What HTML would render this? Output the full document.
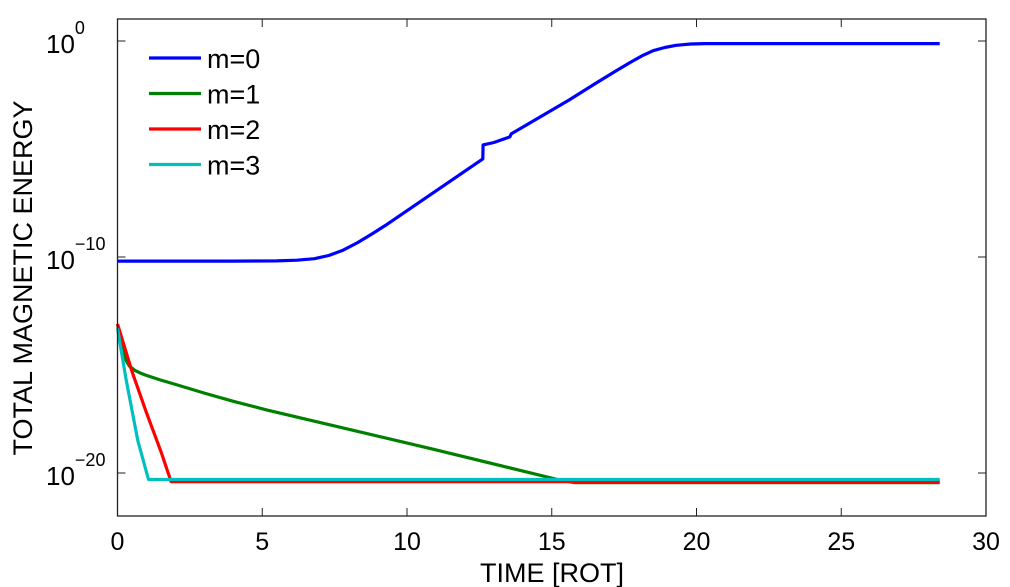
<!DOCTYPE html>
<html><head><meta charset="utf-8"><style>
body{margin:0;background:#fff;}
svg{display:block;font-family:"Liberation Sans",Arial,sans-serif;}
</style></head><body>
<svg id="chart" width="1010" height="587" viewBox="0 0 1010 587">
<rect x="0" y="0" width="1010" height="587" fill="#fff"/>
<g id="plot"></g>
<g id="axes"></g>
</svg>
<script>
const xTicks=[0,5,10,15,20,25,30];
const yTicks=[0,-10,-20];
const seriesNames=["m=0","m=1","m=2","m=3"];
const seriesColors=["#0000ff","#008000","#ff0000","#00bfbf"];
const t0=[0,4,5.5,6.2,6.8,7.3,7.8,8.3,8.8,9.3,12.62,12.63,13.0,13.55,13.6,15.6,16.5,17.2,17.7,18.1,18.5,18.9,19.3,19.8,20.3,28.4];
const e0=[-10.19,-10.19,-10.18,-10.15,-10.08,-9.93,-9.68,-9.33,-8.92,-8.5,-5.46,-4.81,-4.7,-4.44,-4.3,-2.73,-1.97,-1.4,-1.0,-0.7,-0.45,-0.3,-0.2,-0.14,-0.12,-0.12];
const t1=[0,0.1,0.2,0.3,0.41,0.6,0.8,1.0,1.5,2.0,3.0,4.0,5.15,10.9,15.2,15.8,28.4];
const e1=[-13.1,-13.8,-14.4,-14.8,-15.05,-15.25,-15.38,-15.48,-15.7,-15.9,-16.3,-16.68,-17.08,-18.9,-20.3,-20.45,-20.45];
const t2=[0,0.5,1.0,1.5,1.85,28.4];
const e2=[-13.1,-15.3,-17.2,-19.0,-20.4,-20.4];
const t3=[0,0.3,0.7,1.07,28.4];
const e3=[-13.3,-15.7,-18.5,-20.3,-20.3];
const X0=117.5,X1=986,Y0=19,Y1=516;
const xs=t=>X0+(t-0)/(30-0)*(X1-X0);
const ys=e=>41+(0-e)*21.6;
const NS="http://www.w3.org/2000/svg";
const plot=document.getElementById('plot'),axes=document.getElementById('axes');
function mk(tag,attrs,parent){const el=document.createElementNS(NS,tag);for(const k in attrs)el.setAttribute(k,attrs[k]);parent.appendChild(el);return el;}
const T=[t0,t1,t2,t3],E=[e0,e1,e2,e3];
for(let s=0;s<4;s++){
  const d=T[s].map((t,i)=>(i?'L':'M')+xs(t).toFixed(1)+' '+ys(E[s][i]).toFixed(1)).join(' ');
  const p=mk('path',{d:d,fill:'none',stroke:seriesColors[s],'stroke-width':3.2,'stroke-linejoin':'round'},plot);
  
  
}
const frame=mk('rect',{x:X0,y:Y0,width:X1-X0,height:Y1-Y0,fill:'none',stroke:'#222','stroke-width':1.3},axes);


xTicks.forEach(v=>{
  const x=xs(v);
  mk('line',{x1:x,x2:x,y1:Y1,y2:Y1-8,stroke:'#222'},axes);
  mk('line',{x1:x,x2:x,y1:Y0,y2:Y0+8,stroke:'#222'},axes);
  const tx=mk('text',{x:x,y:550,'font-size':25,'text-anchor':'middle',fill:'#000'},axes);
  tx.textContent=v;
  
  
});
yTicks.forEach(v=>{
  const y=ys(v);
  mk('line',{x1:X0,x2:X0+8,y1:y,y2:y,stroke:'#222'},axes);
  mk('line',{x1:X1,x2:X1-8,y1:y,y2:y,stroke:'#222'},axes);
  const tx=mk('text',{x:46,y:y+12,'font-size':26,fill:'#000'},axes);
  
  
  tx.textContent='10';
  const sp=mk('tspan',{dy:-19,'font-size':18},tx);sp.textContent=String(v).replace('-','\u2212');
});
const xl=mk('text',{x:552,y:582,'font-size':27,'text-anchor':'middle',fill:'#000'},axes);
xl.textContent='TIME [ROT]';


const yl=mk('text',{x:0,y:0,'font-size':27,'text-anchor':'middle',fill:'#000',transform:'translate(32,278) rotate(-90)'},axes);
yl.textContent='TOTAL MAGNETIC ENERGY';


const lg=mk('g',{},axes);


seriesNames.forEach((n,i)=>{
  const y=58+i*35.5;
  const g=mk('g',{},lg);
  
  
  mk('line',{x1:149,x2:201,y1:y,y2:y,stroke:seriesColors[i],'stroke-width':3.2},g);
  const tx=mk('text',{x:207,y:y+10,'font-size':27,fill:'#000'},g);
  tx.textContent=n;
});
</script>
</body></html>
